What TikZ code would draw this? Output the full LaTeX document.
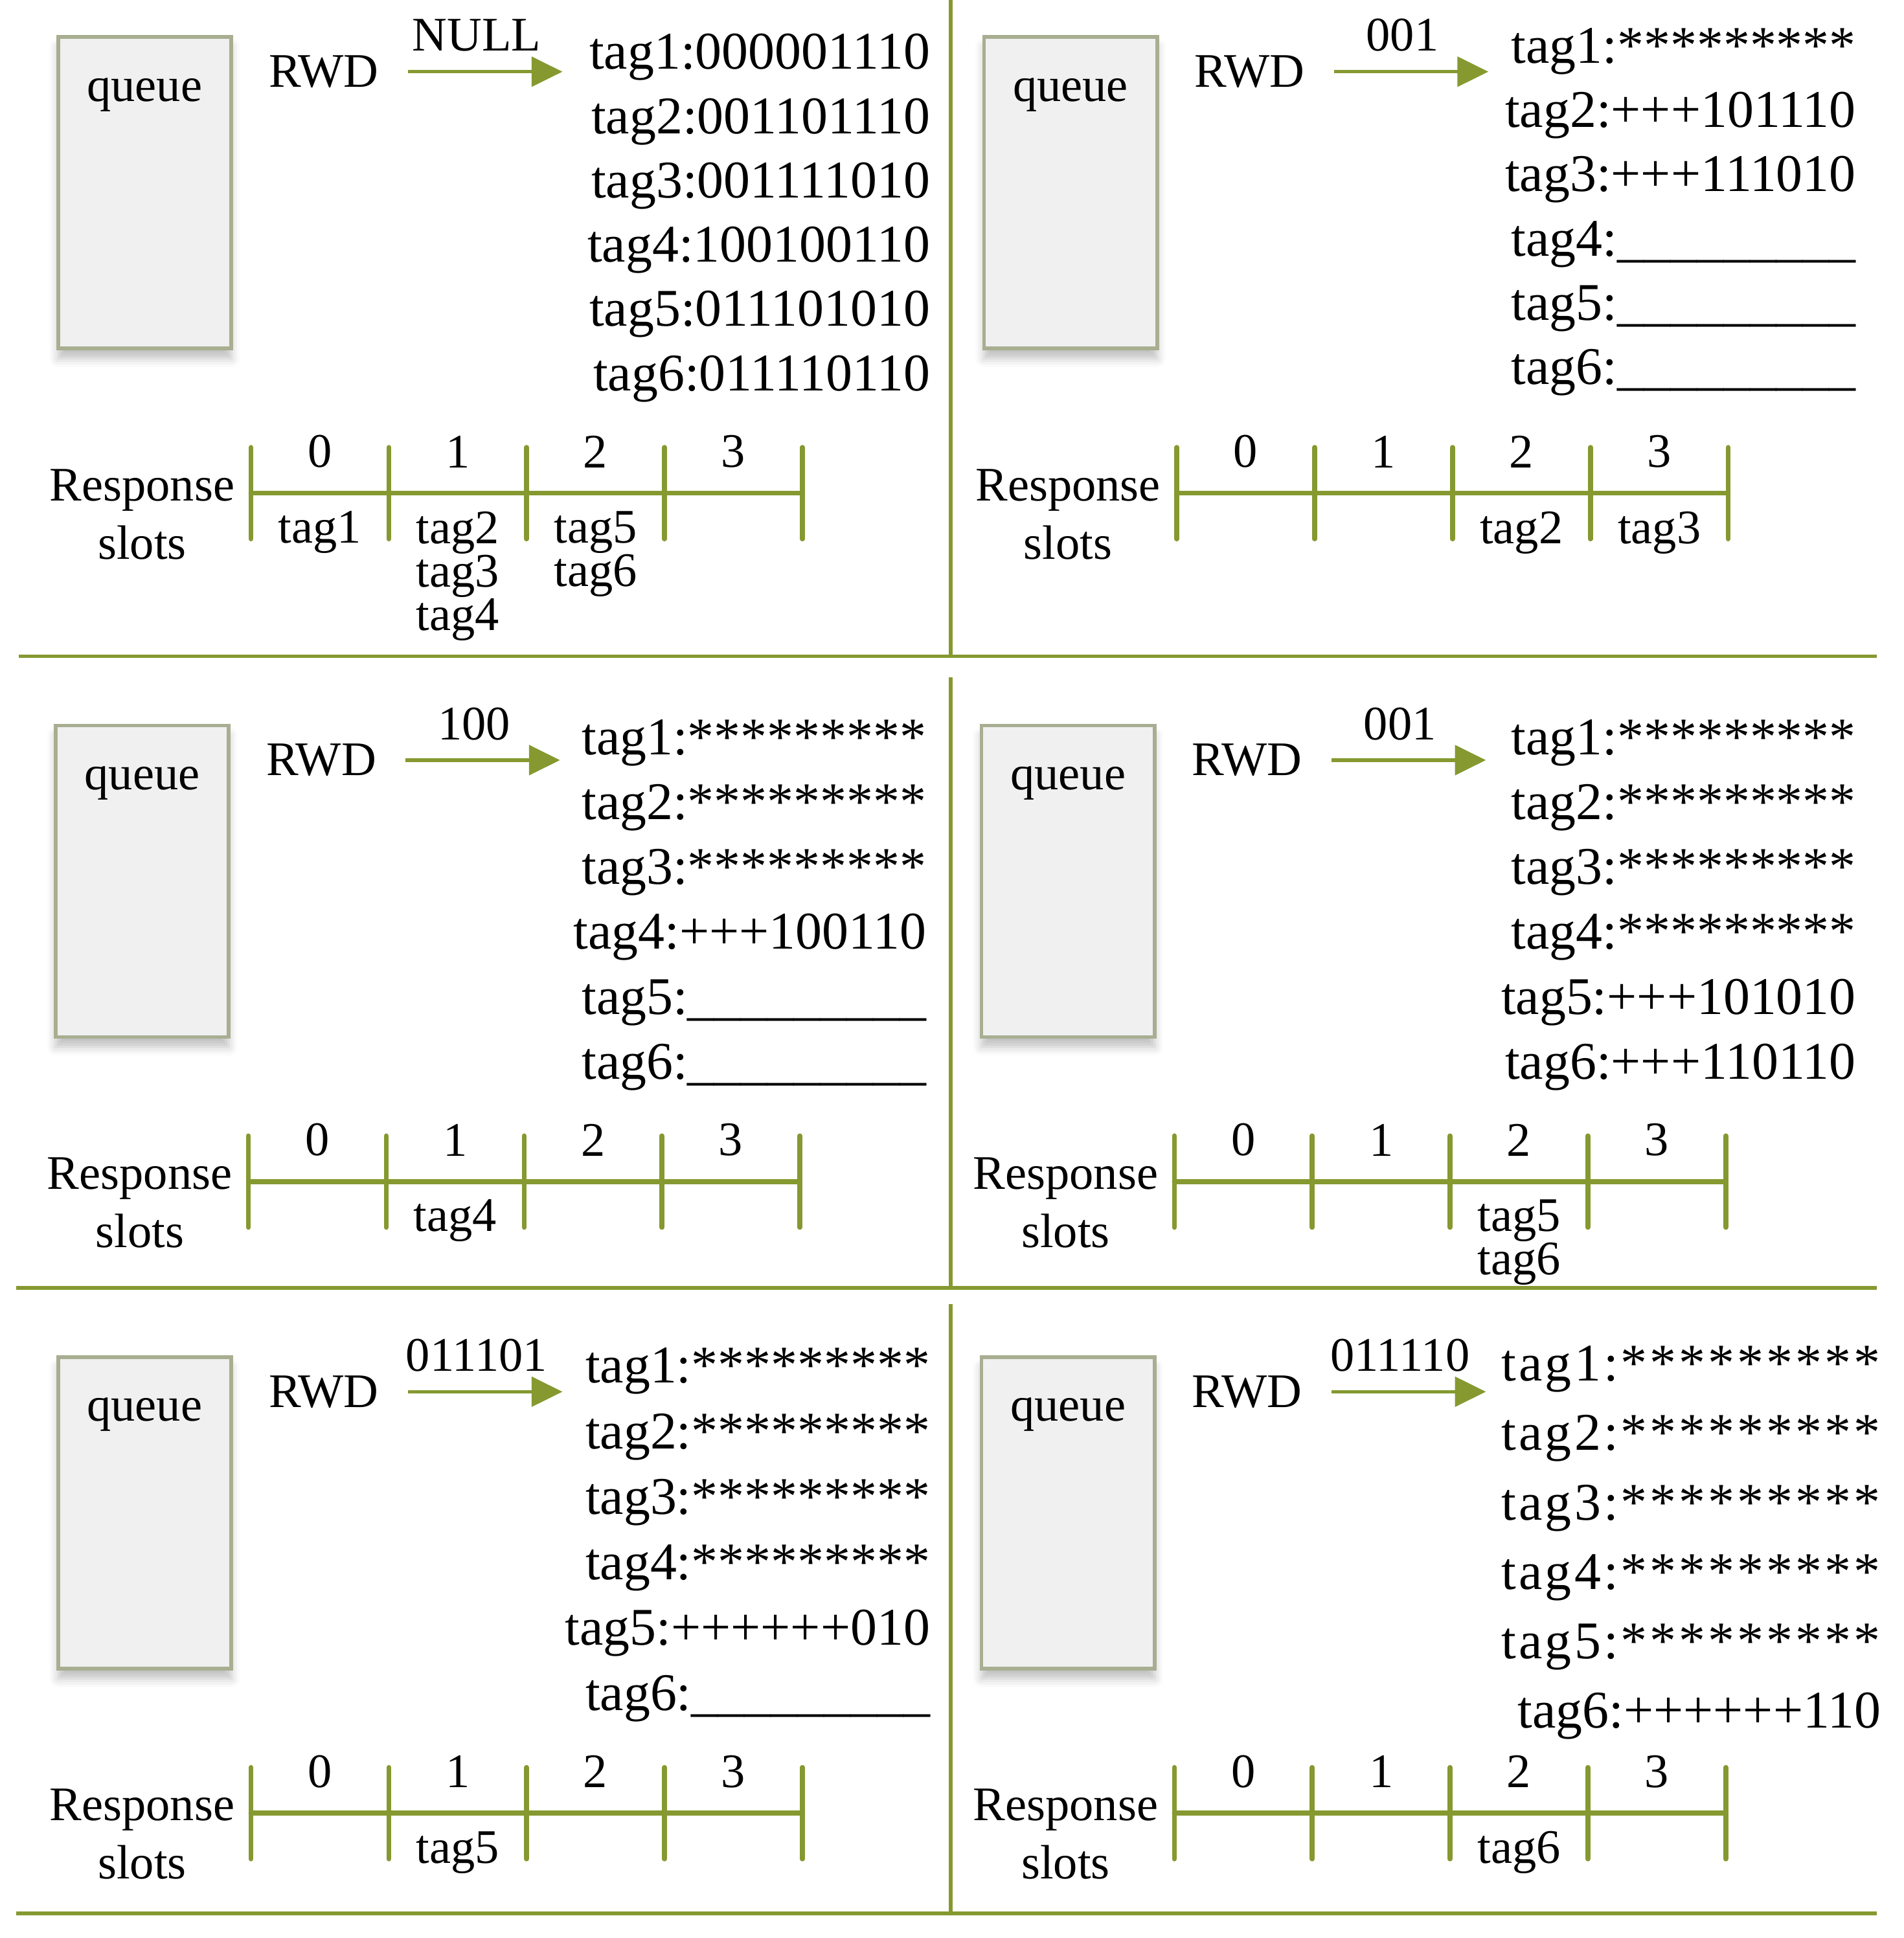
\documentclass[tikz,border=0pt]{standalone}
\usepackage{fontspec}
\setmainfont{Liberation Serif}
\usepackage{tikz}
\usetikzlibrary{positioning,arrows.meta,shadows.blur}

\definecolor{slotgreen}{RGB}{133,153,48}
\definecolor{qborder}{RGB}{168,174,145}
\definecolor{qfill}{RGB}{240,240,240}

\begin{document}
\begin{tikzpicture}[
  x=0.1mm, y=-0.1mm,
  every node/.style={font=\fontsize{11.1}{13.4}\selectfont, inner sep=0pt},
  queuebox/.style={draw=qborder, fill=qfill, line width=0.3mm, minimum width=14mm, minimum height=25.2mm,
    blur shadow={shadow xshift=0mm, shadow yshift=-0.8mm, shadow blur radius=0.7mm, shadow opacity=25}},
  sendarrow/.style={draw=slotgreen, line width=0.27mm, -{Triangle[length=2.5mm, width=2.4mm]}},
  slotline/.style={draw=slotgreen, line width=0.4mm, line cap=round},
  gridline/.style={draw=slotgreen, line width=0.28mm},
  slottags/.style={align=center, font=\fontsize{11.1}{10}\selectfont},
  tagrow/.style={anchor=base east, font=\fontsize{12.2}{14}\selectfont},
  widerow/.style={tagrow, font=\fontsize{12.2}{14}\selectfont\addfontfeatures{LetterSpace=5}}
]
\useasboundingbox (0,0) rectangle (1540,1568);

% frame lines between the six steps
\draw[gridline] (769,0) -- (769,531);
\draw[gridline] (769,548) -- (769,1042);
\draw[gridline] (769,1055) -- (769,1548);
\draw[gridline] (15,531) -- (1518,531);
\draw[gridline] (13,1042) -- (1518,1042);
\draw[gridline] (13,1548) -- (1518,1548);

% parts every step has
\foreach \p/\dx/\dy/\code in {1/0/0/NULL, 2/749/0/001, 3/-2/557/100, 4/747/557/001, 5/0/1068/011101, 6/747/1068/011110}{
  \begin{scope}[shift={(\dx,\dy)}]
    \node[queuebox] (q\p) at (117,156) {};
    \node (ql\p) at ([yshift=-4.8mm]q\p.north) {queue};
    \coordinate (as\p) at (330,58);
    \coordinate (ae\p) at (455,58);
    \draw[sendarrow] (as\p) -- node[above=1.5mm, xshift=-0.7mm] (cmd\p) {\code} (ae\p);
    \node[left=2.3mm of as\p] (rwd\p) {RWD};
    \draw[slotline] (203,399) -- (649,399);
    \foreach \k in {0,...,4}
      \draw[slotline] (203+111.5*\k,362) -- (203+111.5*\k,436);
    \foreach \k in {0,...,3}{
      \coordinate (sl\p-\k) at (258.75+111.5*\k,399);
      \node[above=2mm of sl\p-\k] (n\p-\k) {\k};
    }
    \node[align=center] (rs\p) at (115,416) {Response\\slots};
  \end{scope}
}

% step 1
\foreach \s [count=\i] in {tag1:000001110,tag2:001101110,tag3:001111010,tag4:100100110,tag5:011101010,tag6:011110110}
  \node[tagrow] (t1-\i) at (753,4+52*\i) {\s};
\node[slottags, below=1.4mm of sl1-0] (r1-0) {tag1};
\node[slottags, below=1.4mm of sl1-1] (r1-1) {tag2\\tag3\\tag4};
\node[slottags, below=1.4mm of sl1-2] (r1-2) {tag5\\tag6};

% step 2
\foreach \s [count=\i] in {tag1:*********,tag2:+++101110,tag3:+++111010,tag4:\_\_\_\_\_\_\_\_\_,tag5:\_\_\_\_\_\_\_\_\_,tag6:\_\_\_\_\_\_\_\_\_}
  \node[tagrow] (t2-\i) at (1502,-1+52*\i) {\s};
\node[slottags, below=1.4mm of sl2-2] (r2-2) {tag2};
\node[slottags, below=1.4mm of sl2-3] (r2-3) {tag3};

% step 3
\foreach \s [count=\i] in {tag1:*********,tag2:*********,tag3:*********,tag4:+++100110,tag5:\_\_\_\_\_\_\_\_\_,tag6:\_\_\_\_\_\_\_\_\_}
  \node[tagrow] (t3-\i) at (750,558+52.5*\i) {\s};
\node[slottags, below=1.4mm of sl3-1] (r3-1) {tag4};

% step 4
\foreach \s [count=\i] in {tag1:*********,tag2:*********,tag3:*********,tag4:*********,tag5:+++101010,tag6:+++110110}
  \node[tagrow] (t4-\i) at (1502,558+52.5*\i) {\s};
\node[slottags, below=1.4mm of sl4-2] (r4-2) {tag5\\tag6};

% step 5
\foreach \s [count=\i] in {tag1:*********,tag2:*********,tag3:*********,tag4:*********,tag5:++++++010,tag6:\_\_\_\_\_\_\_\_\_}
  \node[tagrow] (t5-\i) at (753,1066+53*\i) {\s};
\node[slottags, below=1.4mm of sl5-1] (r5-1) {tag5};

% step 6
\foreach \s [count=\i] in {tag1:*********,tag2:*********,tag3:*********,tag4:*********,tag5:*********}
  \node[widerow] (t6-\i) at (1522,1061+56.2*\i) {\s};
\node[tagrow] (t6-6) at (1522,1398) {tag6:++++++110};
\node[slottags, below=1.4mm of sl6-2] (r6-2) {tag6};
\end{tikzpicture}
\end{document}
